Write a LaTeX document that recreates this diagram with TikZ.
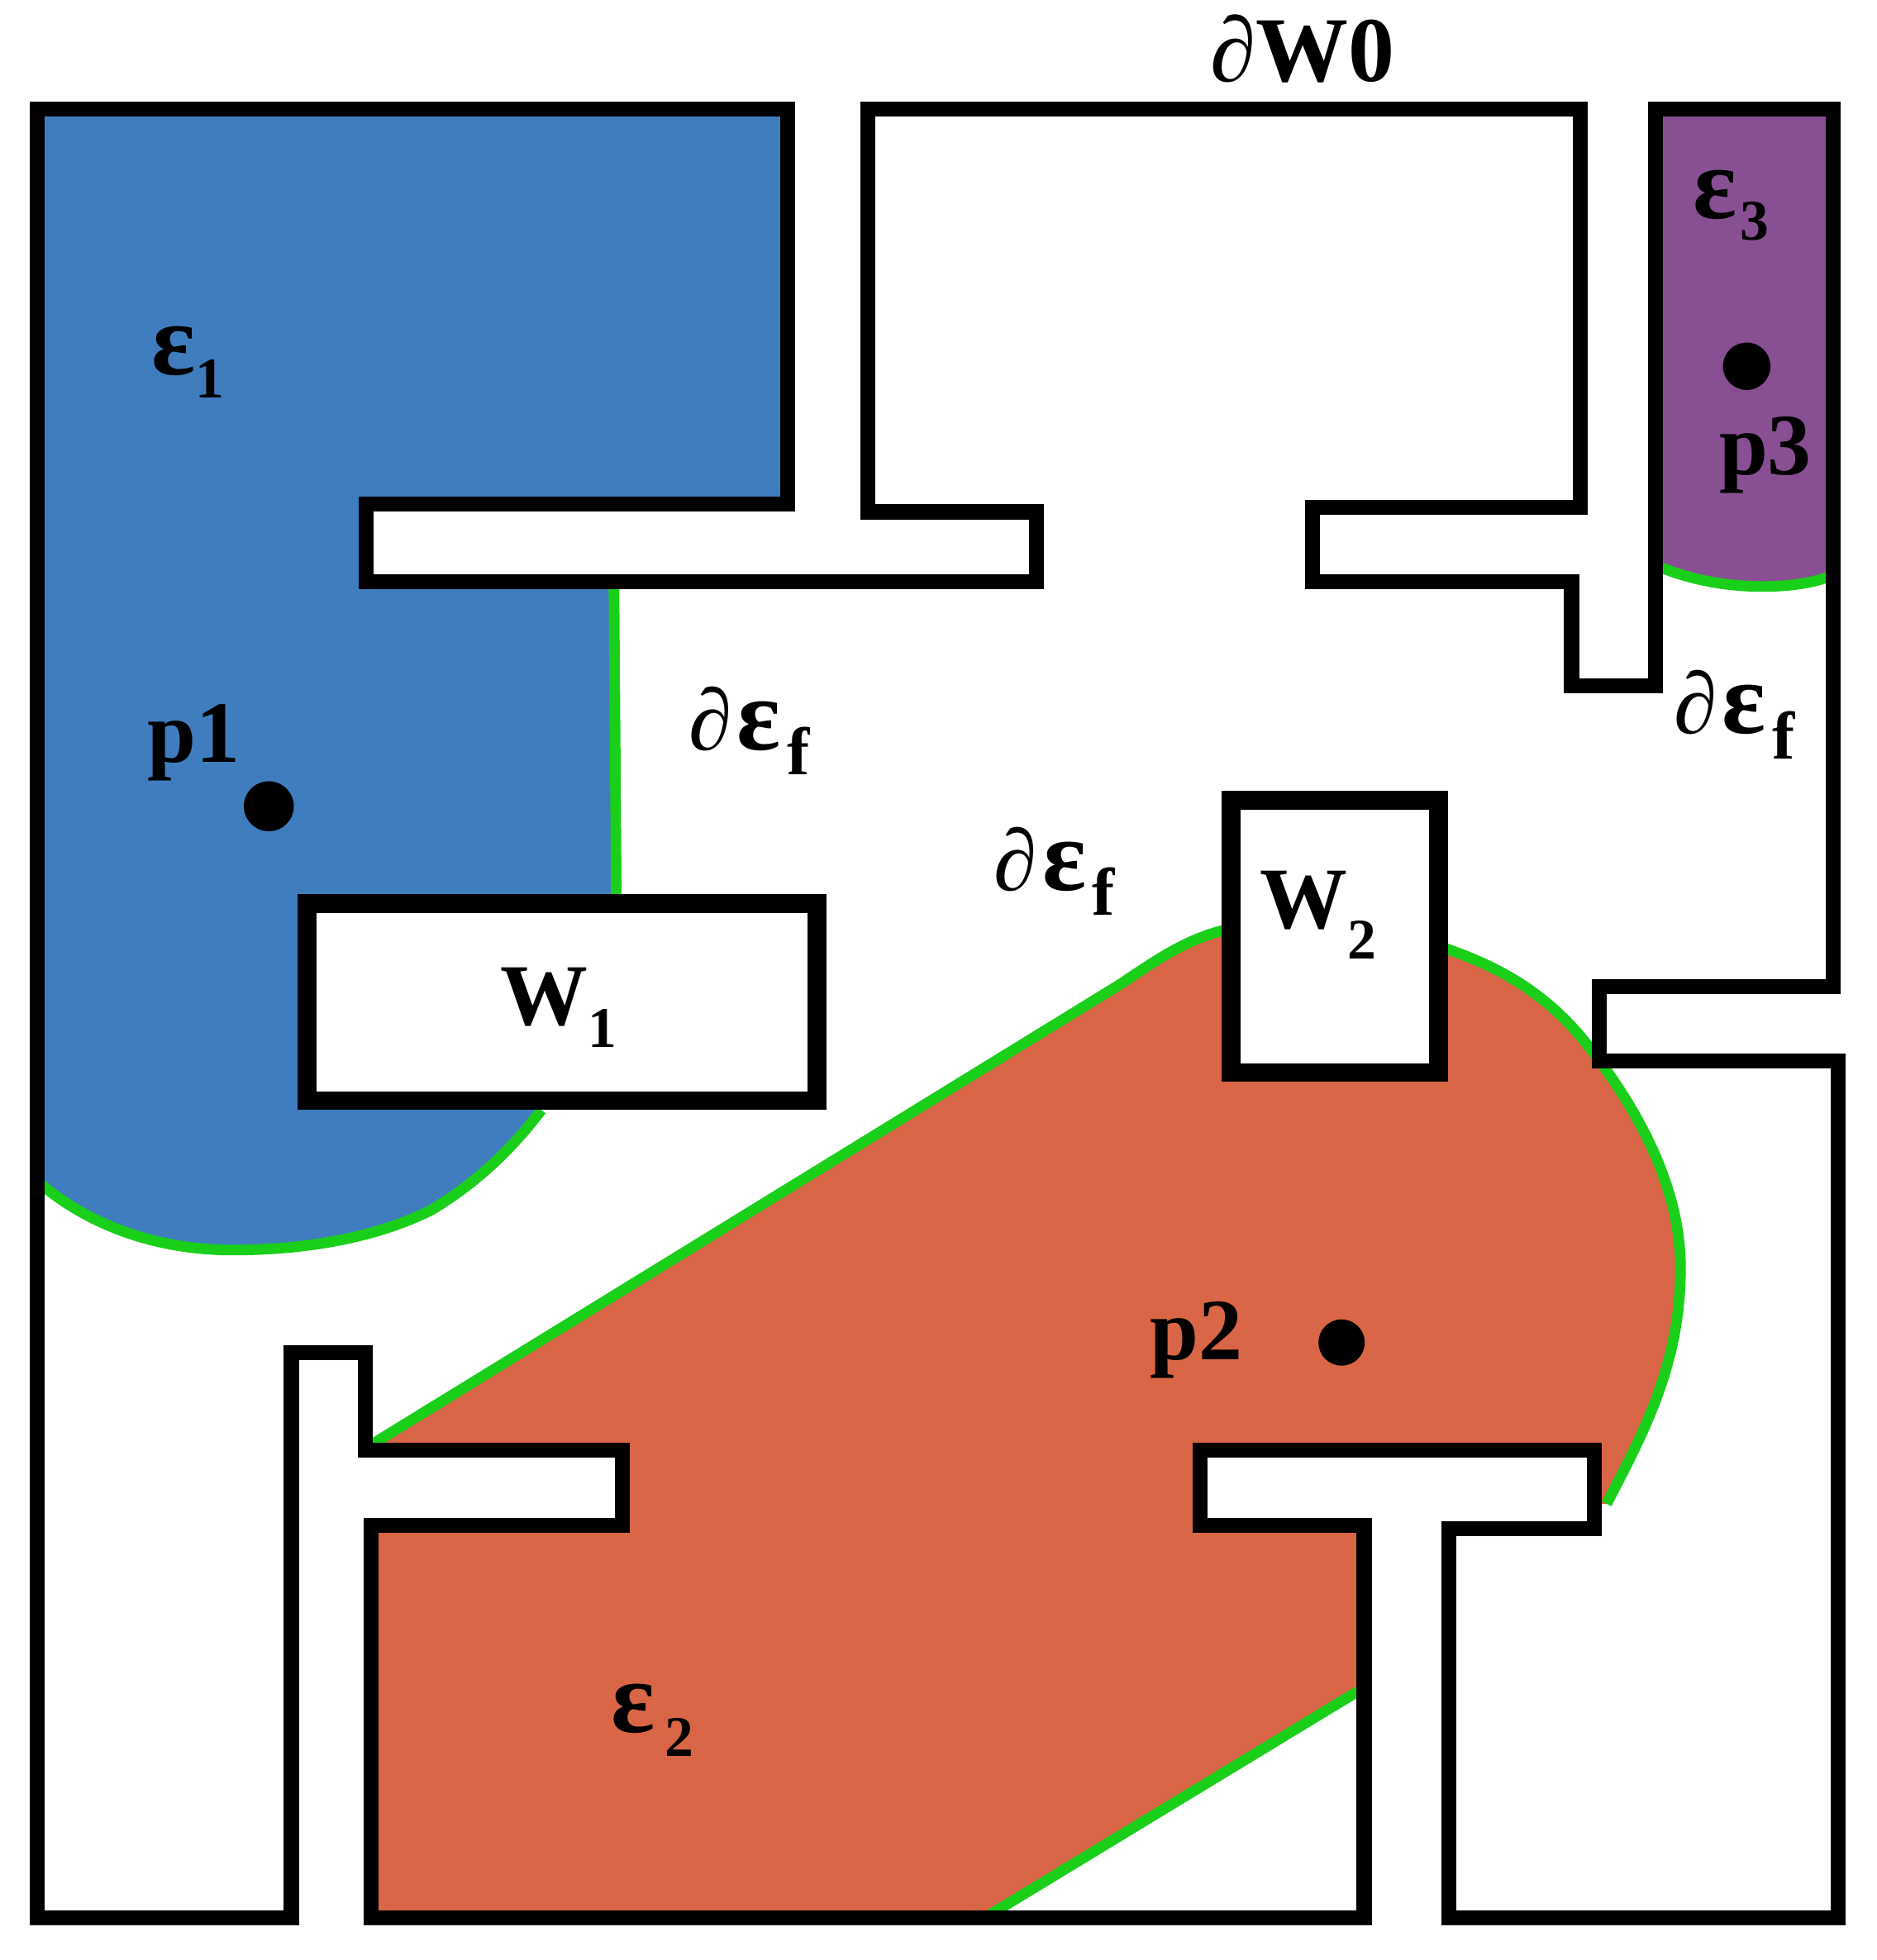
\documentclass[tikz,border=0pt]{standalone}
\usepackage{fontspec}
\setmainfont{Liberation Serif}
\definecolor{blueR}{HTML}{407DBF}
\definecolor{orangeR}{HTML}{D96646}
\definecolor{purpleR}{HTML}{884F93}
\definecolor{greenR}{HTML}{1ACF1A}
\newcommand{\lowsub}[2]{\raisebox{#1pt}{\fontsize{46}{46}\selectfont #2}}
\newcommand{\bigeps}{{\fontsize{82}{82}\selectfont ε}}
\newcommand{\subf}{\raisebox{-20pt}{\fontsize{54}{54}\selectfont f}}
\tikzset{
  wall/.style={draw=black,line width=12pt,miter limit=10},
  obstacle/.style={draw=black,fill=white,line width=15pt},
  frontier/.style={draw=greenR,line width=8.5pt},
  lab/.style={anchor=base west,inner sep=0pt,outer sep=0pt,text=black,font=\fontsize{70}{70}\selectfont\bfseries},
  dotp/.style={circle,fill=black,inner sep=0pt,minimum size=#1pt}
}
\begin{document}
\begin{tikzpicture}[x=1pt,y=-1pt]
\useasboundingbox (0,0) rectangle (1501,1568);
\fill[white] (0,0) rectangle (1501,1568);
% regions
\fill[blueR] (30,87) -- (630,87) -- (630,403) -- (293,403) -- (293,465) -- (491,465) -- (493,730) -- (433,888)
  .. controls (405,925) and (375,950) .. (345,968)
  .. controls (295,993) and (235,1000) .. (186,1000)
  .. controls (125,1000) and (70,980) .. (30,945) -- cycle;
\fill[purpleR] (1324,87) -- (1466,87) -- (1466,460)
  .. controls (1440,472) and (1375,475) .. (1324,452) -- cycle;
\fill[orangeR] (295,1157) -- (895,788)
  .. controls (925,768) and (950,750) .. (984,743) -- (1151,757)
  .. controls (1190,770) and (1235,790) .. (1272,839)
  .. controls (1300,875) and (1343,940) .. (1344,1011)
  .. controls (1345,1090) and (1315,1145) .. (1285,1203)
  -- (1275,1203) -- (1275,1160) -- (960,1160) -- (960,1220) -- (1091,1220) -- (1091,1350)
  -- (788,1534) -- (297,1534) -- (297,1220) -- (498,1220) -- (498,1160) -- (292,1160) -- cycle;
% frontiers
\draw[frontier] (491,465) -- (493,725);
\draw[frontier] (433,888)
  .. controls (405,925) and (375,950) .. (345,968)
  .. controls (295,993) and (235,1000) .. (186,1000)
  .. controls (125,1000) and (70,980) .. (30,945);
\draw[frontier] (1466,460) .. controls (1440,472) and (1375,475) .. (1324,452);
\draw[frontier] (295,1157) -- (895,788) .. controls (925,768) and (950,750) .. (984,743);
\draw[frontier] (1151,757)
  .. controls (1190,770) and (1235,790) .. (1272,839)
  .. controls (1300,875) and (1343,940) .. (1344,1011)
  .. controls (1345,1090) and (1315,1145) .. (1285,1203);
\draw[frontier] (1091,1350) -- (788,1534);
% walls
\draw[wall] (30,87) -- (630,87) -- (630,403) -- (293,403) -- (293,465.5) -- (829,465.5) -- (829,409.5) -- (694,409.5)
  -- (694,87) -- (1264,87) -- (1264,406) -- (1050,406) -- (1050,465.5) -- (1257,465.5) -- (1257,548.5) -- (1324,548.5)
  -- (1324,87) -- (1466,87) -- (1466,789) -- (1279,789) -- (1279,849) -- (1470,849) -- (1470,1534.5) -- (1159,1534.5)
  -- (1159,1223) -- (1275,1223) -- (1275,1160) -- (960,1160) -- (960,1220) -- (1091,1220) -- (1091,1534.5)
  -- (297,1534.5) -- (297,1220) -- (498,1220) -- (498,1160) -- (292,1160) -- (292,1082) -- (233,1082) -- (233,1534.5)
  -- (30,1534.5) -- cycle;
\draw[obstacle] (245.5,723) rectangle (653.5,880.5);
\draw[obstacle] (984.5,640) rectangle (1150.5,858);
% points
\node[dotp=40] (pa) at (215,645) {};
\node[dotp=37] (pb) at (1073,1074) {};
\node[dotp=38] (pc) at (1397,293) {};
% labels
\node[lab,font=\fontsize{74}{74}\selectfont\bfseries] (top) at (968,65) {∂W0};
\node[lab] (e1) at (121,300) {\bigeps\lowsub{-18}{1}};
\node[lab] (e2) at (489,1386) {\bigeps\kern8pt\lowsub{-19}{2}};
\node[lab] (e3) at (1354,175) {\bigeps\kern3pt\lowsub{-17}{3}};
\node[lab] (l1) at (118,610) {p1};
\node[lab] (l2) at (920,1088) {p2};
\node[lab] (l3) at (1375,380) {p3};
\node[lab] (f1) at (551,600) {∂\kern4pt\bigeps\kern5pt\subf};
\node[lab] (f2) at (795,712) {∂\kern4pt\bigeps\kern5pt\subf};
\node[lab] (f3) at (1339,587) {∂\kern4pt\bigeps\kern5pt\subf};
\node[lab] (w1) at (400,820) {W\lowsub{-18}{1}};
\node[lab] (w2) at (1008,743) {W\lowsub{-24}{2}};
\end{tikzpicture}
\end{document}
